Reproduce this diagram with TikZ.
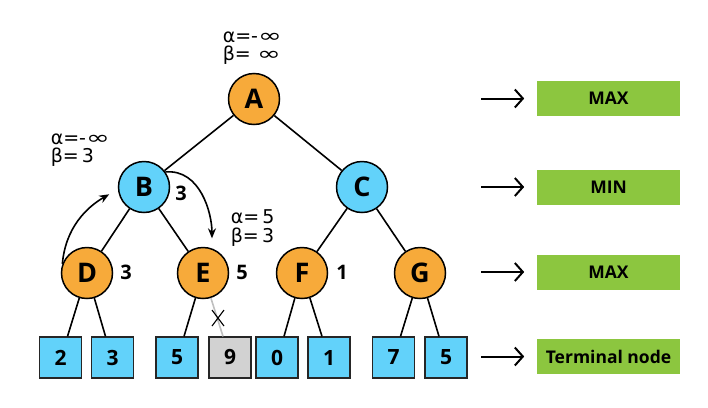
\documentclass[tikz,border=0pt]{standalone}
\usepackage{fontspec}
\setmainfont{Open Sans}
\newfontfamily\greekfont{DejaVu Sans}
\usepackage{xcolor}
\usepackage{tikz}
\usetikzlibrary{arrows,arrows.meta}

\definecolor{maxorange}{RGB}{247,170,58}
\definecolor{minblue}{RGB}{98,210,250}
\definecolor{levelgreen}{RGB}{140,198,63}
\definecolor{prunegray}{RGB}{210,210,210}

\newcommand{\infsym}{\scalebox{1.5}[1.0]{∞}}

\begin{document}
\begin{tikzpicture}[
    x=1pt, y=1pt,
    > = {Stealth[length=10pt,width=8pt]}, % arrow head style
    line width=1.6pt,
    maxnode/.style={circle, draw, line width=1.5pt, fill=maxorange, minimum size=51pt, inner sep=0pt, font=\bfseries\fontsize{27}{27}\selectfont},
    minnode/.style={maxnode, fill=minblue},
    leaf/.style={draw=black!85, line width=1.3pt, fill=minblue, minimum width=42pt, minimum height=41pt, inner sep=0pt, font=\bfseries\fontsize{21}{21}\selectfont},
    value/.style={inner sep=0pt, font=\bfseries\fontsize{20}{20}\selectfont},
    bounds/.style={anchor=west, align=left, inner sep=0pt, font=\greekfont\fontsize{19}{18.5}\selectfont},
    level/.style={fill=levelgreen, minimum width=143pt, minimum height=35pt, inner sep=0pt, font=\bfseries\fontsize{17.5}{17.5}\selectfont},
    levelarrow/.style={-{Straight Barb[length=8pt,width=18pt,line width=2pt]}, line width=2pt}
]
\useasboundingbox (0,0) rectangle (708,-407);

% Nodes
\node[maxnode] (A) at (254,-99) {A};
\node[minnode] (B) at (144,-187) {B};
\node[minnode] (C) at (362,-187) {C};
\node[maxnode] (D) at (87,-273) {D};
\node[maxnode] (E) at (203,-273) {E};
\node[maxnode] (F) at (302,-273) {F};
\node[maxnode] (G) at (420,-273) {G};

% Terminal nodes
\node[leaf] (t1) at (60.5,-357.5) {2};
\node[leaf] (t2) at (112.5,-357.5) {3};
\node[leaf] (t3) at (177,-357.5) {5};
\node[leaf, fill=prunegray] (t4) at (230,-357.5) {9};
\node[leaf] (t5) at (277,-357.5) {0};
\node[leaf] (t6) at (329,-357.5) {1};
\node[leaf] (t7) at (393.5,-357.5) {7};
\node[leaf] (t8) at (446,-357.5) {5};

% Values
\node[value] (vB) at (181,-193) {3};
\node[value] (vD) at (126,-272) {3};
\node[value] (vE) at (242,-272) {5};
\node[value] (vF) at (342,-272) {1};

% Alpha / beta
\node[bounds] (abA) at (222,-48) {α=-\infsym\\β=\,\,\infsym};
\node[bounds] (abB) at (50,-150) {α=-\infsym\\β=\,3};
\node[bounds] (abE) at (230,-228) {α=\,5\\β=\,3};

% Levels
\node[level] (lvl1) at (608.5,-98.5) {MAX};
\node[level] (lvl2) at (608.5,-187) {MIN};
\node[level] (lvl3) at (608.5,-272) {MAX};
\node[level] (lvl4) at (608.5,-356.5) {Terminal node};

% Edges
\draw (A) -- (B);
\draw (A) -- (C);
\draw (B) -- (D);
\draw (B) -- (E);
\draw (C) -- (F);
\draw (C) -- (G);
\draw (D) -- ([xshift=7pt]t1.north);
\draw (D) -- ([xshift=-7pt]t2.north);
\draw (E) -- ([xshift=7pt]t3.north);
\draw[black!25] (E) -- ([xshift=-7pt]t4.north);
\draw (F) -- ([xshift=7pt]t5.north);
\draw (F) -- ([xshift=-7pt]t6.north);
\draw (G) -- ([xshift=7pt]t7.north);
\draw (G) -- ([xshift=-7pt]t8.north);

% Pruned branch
\draw[line width=1.1pt] (212,-310) -- (224,-326) (224,-310) -- (212,-326);

% Back-up arrows
\draw[->, shorten >=10pt] (D.160) to[out=85, in=210] (B.185);
\draw[->, shorten >=10pt] (B.35) to[out=5, in=90] (E.70);

% Level arrows
\foreach \l in {lvl1,lvl2,lvl3,lvl4}
    \draw[levelarrow] ([xshift=-55pt]\l.west) -- ([xshift=-12pt]\l.west);

\end{tikzpicture}
\end{document}
